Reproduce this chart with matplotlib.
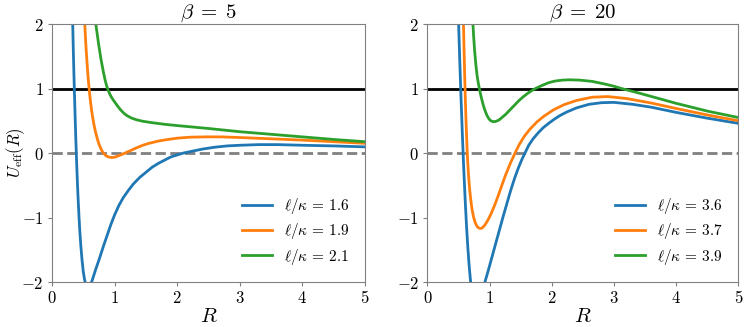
import matplotlib.pyplot as plt

plt.rcParams['mathtext.fontset'] = 'cm'
plt.rcParams['font.family'] = 'serif'
plt.rcParams['font.serif'] = ['DejaVu Serif']

# readings: beta = 5
r_a1 = [0.330, 0.340, 0.350, 0.360, 0.370, 0.380, 0.390, 0.400, 0.415, 0.430, 0.445, 0.460, 0.480, 0.500,
        0.520, 0.540, 0.560, 0.580, 0.600, 0.620, 0.640, 0.700, 0.760, 0.820, 0.880, 0.940, 1.000, 1.070,
        1.140, 1.220, 1.300, 1.400, 1.500, 1.600, 1.700, 1.800, 1.900, 2.000, 2.100, 2.250, 2.400, 2.600,
        2.800, 3.000, 3.300, 3.600, 4.000, 4.500, 5.000]
u_a1 = [2.05, 1.62, 1.24, 0.88, 0.55, 0.24, -0.05, -0.31, -0.66, -0.96, -1.22, -1.43, -1.66, -1.84,
        -1.96, -2.04, -2.08, -2.09, -2.07, -2.03, -1.98, -1.80, -1.63, -1.45, -1.28, -1.11, -0.96, -0.81,
        -0.69, -0.58, -0.48, -0.38, -0.30, -0.22, -0.16, -0.11, -0.06, -0.03, 0.0, 0.03, 0.06, 0.09,
        0.11, 0.12, 0.13, 0.13, 0.12, 0.11, 0.095]
r_a2 = [0.520, 0.530, 0.540, 0.550, 0.565, 0.580, 0.595, 0.610, 0.630, 0.650, 0.670, 0.690, 0.710, 0.730,
        0.750, 0.775, 0.800, 0.830, 0.860, 0.900, 0.950, 1.000, 1.060, 1.120, 1.180, 1.260, 1.350, 1.450,
        1.550, 1.700, 1.850, 2.000, 2.200, 2.450, 2.700, 3.000, 3.500, 4.000, 4.500, 5.000]
u_a2 = [2.08, 1.88, 1.70, 1.54, 1.33, 1.14, 0.98, 0.84, 0.68, 0.55, 0.44, 0.35, 0.27, 0.20,
        0.14, 0.08, 0.03, -0.01, -0.04, -0.06, -0.07, -0.065, -0.045, -0.02, 0.005, 0.04, 0.08, 0.12,
        0.15, 0.185, 0.21, 0.23, 0.245, 0.25, 0.25, 0.24, 0.22, 0.20, 0.175, 0.15]
r_a3 = [0.700, 0.740, 0.780, 0.820, 0.850, 0.875, 0.900, 0.925, 0.950, 0.980, 1.010, 1.050, 1.100, 1.150,
        1.200, 1.270, 1.350, 1.450, 1.600, 1.800, 2.000, 2.500, 3.000, 3.500, 4.000, 4.500, 5.000]
u_a3 = [2.00, 1.72, 1.47, 1.26, 1.125, 1.035, 0.965, 0.91, 0.865, 0.82, 0.78, 0.725, 0.665, 0.615,
        0.578, 0.542, 0.515, 0.492, 0.47, 0.445, 0.425, 0.38, 0.33, 0.29, 0.25, 0.21, 0.175]

# readings: beta = 20
r_b1 = [0.500, 0.510, 0.520, 0.530, 0.540, 0.550, 0.560, 0.570, 0.580, 0.595, 0.610, 0.630, 0.650, 0.670,
        0.690, 0.710, 0.740, 0.770, 0.800, 0.830, 0.860, 0.890, 0.920, 0.980, 1.040, 1.100, 1.160, 1.220,
        1.280, 1.340, 1.400, 1.460, 1.520, 1.570, 1.630, 1.700, 1.780, 1.860, 1.950, 2.050, 2.140, 2.240,
        2.400, 2.600, 2.800, 3.000, 3.300, 3.600, 4.000, 4.500, 5.000]
u_b1 = [2.10, 1.78, 1.47, 1.18, 0.90, 0.63, 0.37, 0.12, -0.12, -0.45, -0.76, -1.13, -1.45, -1.72,
        -1.94, -2.12, -2.32, -2.44, -2.48, -2.44, -2.34, -2.19, -2.02, -1.82, -1.61, -1.40, -1.19, -0.98,
        -0.78, -0.58, -0.40, -0.24, -0.10, 0.0, 0.12, 0.22, 0.31, 0.39, 0.46, 0.53, 0.585, 0.635,
        0.70, 0.755, 0.78, 0.785, 0.755, 0.71, 0.63, 0.54, 0.46]
r_b2 = [0.580, 0.590, 0.600, 0.610, 0.620, 0.630, 0.640, 0.650, 0.665, 0.680, 0.700, 0.720, 0.745, 0.770,
        0.800, 0.830, 0.860, 0.890, 0.930, 0.980, 1.030, 1.090, 1.140, 1.180, 1.250, 1.330, 1.410, 1.480,
        1.560, 1.650, 1.760, 1.880, 2.030, 2.200, 2.400, 2.650, 2.900, 3.200, 3.600, 4.000, 4.500, 5.000]
u_b2 = [2.05, 1.62, 1.22, 0.87, 0.56, 0.29, 0.05, -0.15, -0.38, -0.56, -0.74, -0.88, -1.00, -1.08,
        -1.14, -1.165, -1.17, -1.155, -1.11, -1.03, -0.93, -0.79, -0.66, -0.55, -0.36, -0.17, 0.0, 0.135,
        0.26, 0.37, 0.48, 0.575, 0.67, 0.75, 0.815, 0.865, 0.875, 0.845, 0.775, 0.69, 0.59, 0.50]
r_b3 = [0.730, 0.745, 0.760, 0.780, 0.800, 0.820, 0.840, 0.870, 0.900, 0.930, 0.960, 0.990, 1.020, 1.060,
        1.100, 1.150, 1.200, 1.260, 1.330, 1.400, 1.470, 1.540, 1.620, 1.700, 1.760, 1.850, 1.950, 2.050,
        2.170, 2.290, 2.450, 2.650, 2.850, 3.000, 3.120, 3.400, 3.700, 4.000, 4.500, 5.000]
u_b3 = [2.05, 1.80, 1.59, 1.37, 1.20, 1.08, 0.98, 0.85, 0.74, 0.65, 0.58, 0.53, 0.50, 0.485,
        0.49, 0.51, 0.55, 0.60, 0.67, 0.74, 0.81, 0.87, 0.93, 0.98, 1.01, 1.05, 1.09, 1.115,
        1.13, 1.135, 1.13, 1.11, 1.07, 1.035, 1.00, 0.93, 0.85, 0.77, 0.65, 0.55]

labels_a = [r'$\ell/\kappa \,=\, 1.6$', r'$\ell/\kappa \,=\, 1.9$', r'$\ell/\kappa \,=\, 2.1$']
labels_b = [r'$\ell/\kappa \,=\, 3.6$', r'$\ell/\kappa \,=\, 3.7$', r'$\ell/\kappa \,=\, 3.9$']
titles = [r'$\beta \;=\; 5$', r'$\beta \;=\; 20$']
xticks = [0, 1, 2, 3, 4, 5]
xtick_labels = ['$0$', '$1$', '$2$', '$3$', '$4$', '$5$']
yticks = [-2, -1, 0, 1, 2]
ytick_labels = ['$-2$', '$-1$', '$0$', '$1$', '$2$']

fig = plt.figure(figsize=(7.48, 3.27), dpi=100)
ax1 = fig.add_axes([0.0695, 0.1376, 0.4185, 0.789])
ax2 = fig.add_axes([0.5713, 0.1376, 0.4158, 0.789])

panels = [
    (ax1, [(r_a1, u_a1), (r_a2, u_a2), (r_a3, u_a3)], labels_a, titles[0]),
    (ax2, [(r_b1, u_b1), (r_b2, u_b2), (r_b3, u_b3)], labels_b, titles[1]),
]
colors = ['#1f77b4', '#ff7f0e', '#2ca02c']

for ax, curves, labels, title in panels:
    ax.axhline(1, color='black', lw=2)
    ax.axhline(0, color='grey', lw=2, ls='--')
    for (r, u), lab, c in zip(curves, labels, colors):
        ax.plot(r, u, color=c, lw=2, label=lab)
    ax.set_xlim(0, 5)
    ax.set_ylim(-2, 2)
    ax.set_xticks(xticks)
    ax.set_xticklabels(xtick_labels, fontsize=12)
    ax.set_yticks(yticks)
    ax.set_yticklabels(ytick_labels, fontsize=12)
    ax.tick_params(color='0.5', length=3, pad=3)
    for s in ax.spines.values():
        s.set_color('0.5')
    ax.set_xlabel('$R$', fontsize=15, labelpad=0)
    ax.set_title(title, fontsize=15, pad=3)
    ax.legend(loc='lower right', frameon=False, fontsize=11, handlelength=2.0,
              labelspacing=0.35, borderaxespad=0.6)

ax1.set_ylabel(r'$U_{\rm eff}(R)$', fontsize=12)
ax1.yaxis.set_label_coords(-0.08, 0.5)

fig.savefig('out.png', dpi=100)
